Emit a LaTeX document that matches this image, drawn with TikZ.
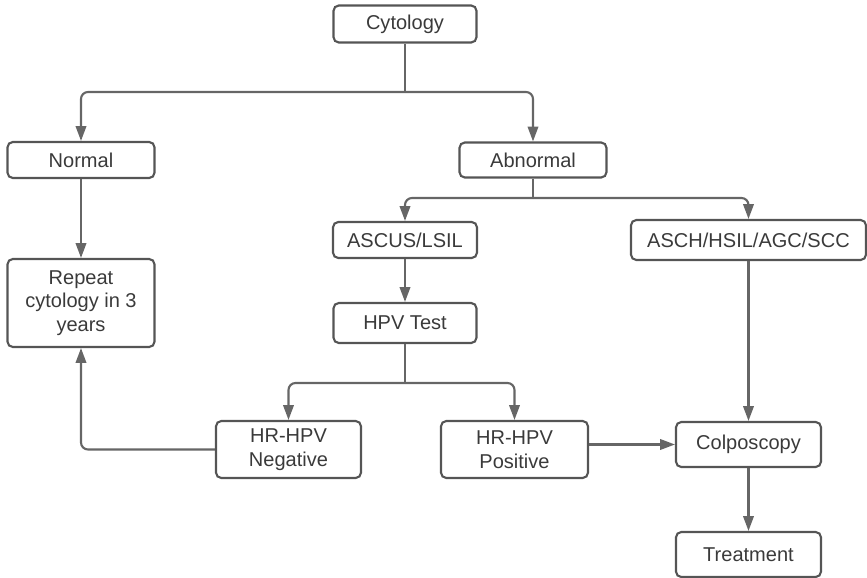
\documentclass[tikz,border=0pt]{standalone}
\usepackage{fontspec}
\setmainfont{Liberation Sans}
\usetikzlibrary{positioning, arrows.meta}

\definecolor{boxline}{HTML}{555555}
\definecolor{arrline}{HTML}{666666}
\definecolor{boxtext}{HTML}{3A3A3A}

\begin{document}
\begin{tikzpicture}[x=0.02cm, y=-0.02cm, >={Triangle[length=8.5pt, width=6pt]},
    every node/.style={font=\fontsize{11.4}{13.5}\selectfont, text=boxtext},
    box/.style={draw=boxline, line width=1.2pt, rectangle, rounded corners=3pt, align=center, inner sep=1pt},
    conn/.style={draw=arrline, line width=1.2pt, rounded corners=4pt}
]
\useasboundingbox (0,0) rectangle (867,578);

% Top level
\node (cyto) [box, minimum width=2.86cm, minimum height=0.74cm] at (405,24) {Cytology};
\node (normal) [box, minimum width=2.94cm, minimum height=0.72cm] at (81,160) {Normal};
\node (abnormal) [box, minimum width=2.94cm, minimum height=0.7cm] at (533,160) {Abnormal};
\node (repeat) [box, minimum width=2.94cm, minimum height=1.76cm] at (81,303) {Repeat\\cytology in 3\\years};

% Abnormal branch
\node (ascus) [box, minimum width=2.88cm, minimum height=0.72cm] at (405,240) {ASCUS/LSIL};
\node (asch) [box, minimum width=4.7cm, minimum height=0.8cm] at (748.5,240) {ASCH/HSIL/AGC/SCC};
\node (hpv) [box, minimum width=2.86cm, minimum height=0.8cm] at (405,323) {HPV Test};

% HPV results
\node (neg) [box, minimum width=2.9cm, minimum height=1.14cm] at (288.5,449.5) {HR-HPV\\Negative};
\node (pos) [box, minimum width=2.94cm, minimum height=1.14cm] at (514.5,449.5) {HR-HPV\\Positive};
\node (colpo) [box, minimum width=2.9cm, minimum height=0.9cm] at (748.5,444.5) {Colposcopy};
\node (treat) [box, minimum width=2.9cm, minimum height=0.9cm] at (748.5,554.5) {Treatment};

% Split points
\coordinate (split1) at (405,92);
\coordinate (split2) at (533,198);
\coordinate (split3) at (405,383);

% Connection arrows
\draw[conn] (cyto.south) -- (split1);
\draw[conn, ->] (split1) -| (normal.north);
\draw[conn, ->] (split1) -| (abnormal.north);
\draw[conn, ->] (normal) -- (repeat);

\draw[conn] (abnormal.south) -- (split2);
\draw[conn, ->] (split2) -| (ascus.north);
\draw[conn, ->] (split2) -| (asch.north);
\draw[conn, ->] (ascus) -- (hpv);

\draw[conn] (hpv.south) -- (split3);
\draw[conn, ->] (split3) -| (neg.north);
\draw[conn, ->] (split3) -| (pos.north);

\draw[conn, ->] (neg.west) -| (repeat.south);
\draw[conn, ->] (pos.east |- colpo.west) -- (colpo.west);
\draw[conn, ->] (asch) -- (colpo);
\draw[conn, ->] (colpo) -- (treat);

\end{tikzpicture}
\end{document}
